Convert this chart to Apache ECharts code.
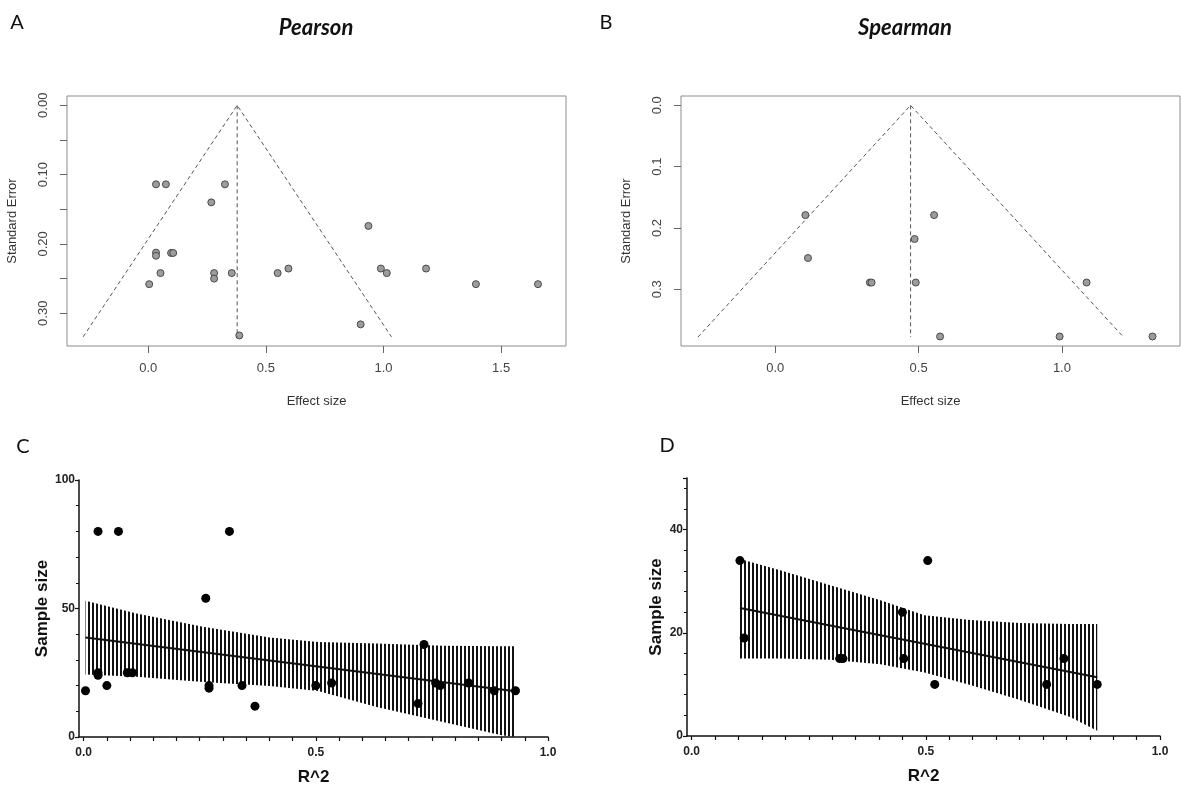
<!DOCTYPE html>
<html>
<head>
<meta charset="utf-8">
<script src="https://cdn.jsdelivr.net/npm/echarts@6/dist/echarts.min.js"></script>
<style>
html,body{margin:0;padding:0;background:#fff;}
#chart{width:1181px;height:789px;}
</style>
</head>
<body>
<div id="chart"></div>
<script>
// ---------- Panel A (Pearson funnel) ----------
const pearsonES = [0.033, 0.075, 0.326, 0.268, 0.033, 0.033, 0.097, 0.106, 0.052, 0.004, 0.280, 0.280, 0.355, 0.387, 0.550, 0.596, 0.936, 0.989, 1.014, 1.181, 1.393, 1.657, 0.903];
const pearsonSE = [0.114, 0.114, 0.114, 0.140, 0.2125, 0.217, 0.213, 0.213, 0.242, 0.258, 0.242, 0.250, 0.242, 0.332, 0.242, 0.2355, 0.174, 0.2355, 0.242, 0.2355, 0.258, 0.258, 0.316];
const funnelA_es = [-0.277, 0.378, 1.034];
const funnelA_se = [0.334, 0, 0.334];
const centerA_es = [0.378, 0.378];
const centerA_se = [0, 0.334];
const xTicksA = [0, 0.5, 1.0, 1.5];
const yTicksA = [0, 0.05, 0.10, 0.15, 0.20, 0.25, 0.30];
const yLabelsA = [0, 0.10, 0.20, 0.30];

// ---------- Panel B (Spearman funnel) ----------
const spearmanES = [0.105, 0.114, 0.330, 0.336, 0.486, 0.490, 0.554, 1.086, 0.575, 0.992, 1.316];
const spearmanSE = [0.179, 0.249, 0.289, 0.289, 0.218, 0.289, 0.179, 0.289, 0.377, 0.377, 0.377];
const funnelB_es = [-0.270, 0.472, 1.215];
const funnelB_se = [0.378, 0, 0.378];
const centerB_es = [0.472, 0.472];
const centerB_se = [0, 0.378];
const xTicksB = [0, 0.5, 1.0];
const yTicksB = [0, 0.1, 0.2, 0.3];

// ---------- Panel C (Pearson: R^2 vs sample size) ----------
const cR2 = [0.004, 0.031, 0.031, 0.031, 0.075, 0.050, 0.094, 0.105, 0.263, 0.270, 0.270, 0.314, 0.341, 0.369, 0.500, 0.534, 0.720, 0.733, 0.758, 0.768, 0.829, 0.884, 0.930];
const cN   = [18, 80, 25, 24, 80, 20, 25, 25, 54, 20, 19, 80, 20, 12, 20, 21, 13, 36, 21, 20, 21, 18, 18];
const fitC_x = [0.004, 0.930];
const fitC_y = [38.7, 17.8];
const bandC_x  = [0.004, 0.114, 0.257, 0.401, 0.505, 0.631, 0.774, 0.900, 0.930];
const bandC_hi = [53.0, 48.1, 42.9, 38.7, 37.0, 36.4, 35.5, 35.3, 35.3];
const bandC_lo = [24.3, 23.4, 21.4, 19.8, 17.9, 11.7, 5.8, 0.7, 0];

// ---------- Panel D (Spearman: R^2 vs sample size) ----------
const dR2 = [0.103, 0.112, 0.316, 0.323, 0.450, 0.453, 0.504, 0.519, 0.758, 0.795, 0.866];
const dN  = [34, 19, 15, 15, 24, 15, 34, 10, 10, 15, 10];
const fitD_x = [0.103, 0.866];
const fitD_y = [24.8, 11.4];
const bandD_x  = [0.103, 0.189, 0.296, 0.403, 0.497, 0.595, 0.701, 0.808, 0.866];
const bandD_hi = [34.3, 32.1, 29.2, 26.3, 23.4, 22.5, 21.9, 21.7, 21.7];
const bandD_lo = [15.0, 15.0, 14.8, 13.9, 12.3, 9.9, 7.0, 3.7, 1.0];

const xTicksCD = [0,0.05,0.1,0.15,0.2,0.25,0.3,0.35,0.4,0.45,0.5,0.55,0.6,0.65,0.7,0.75,0.8,0.85,0.9,0.95,1.0];
const xLabelsCD = [0, 0.5, 1.0];

// ---------- helpers ----------
const zip = (a, b) => a.map((v, i) => [v, b[i]]);
const hatchCanvas = (function(){
  const c = document.createElement('canvas'); c.width = 4; c.height = 4;
  const g = c.getContext('2d'); g.fillStyle = '#111'; g.fillRect(0, 0, 2, 4); return c;
})();
function bandRenderer(xs, hi, lo) {
  return function(params, api) {
    if (params.dataIndex !== 0) return;
    const pts = [];
    for (let i = 0; i < xs.length; i++) pts.push(api.coord([xs[i], hi[i]]));
    for (let i = xs.length - 1; i >= 0; i--) pts.push(api.coord([xs[i], lo[i]]));
    return { type: 'polygon', shape: { points: pts },
      style: { fill: { image: hatchCanvas, repeat: 'repeat' }, stroke: null } };
  };
}

const rFont = 'Liberation Sans, Arial, sans-serif';
const rAxisX = (ticks, min, max, fmtDigits) => ({
  type: 'value', min: min, max: max,
  name: 'Effect size', nameLocation: 'middle', nameGap: 49,
  nameTextStyle: { fontFamily: rFont, fontSize: 13, color: '#333' },
  axisLine: { show: false, onZero: false },
  axisTick: { show: true, length: 7, customValues: ticks, lineStyle: { color: '#666' } },
  axisLabel: { customValues: ticks, margin: 16, fontFamily: rFont, fontSize: 13, color: '#444',
    formatter: v => Number(v).toFixed(fmtDigits) },
  splitLine: { show: false }
});
const rAxisY = (ticks, labels, min, max, fmtDigits) => ({
  type: 'value', inverse: true, min: min, max: max,
  name: 'Standard Error', nameLocation: 'middle', nameGap: 48, nameRotate: 90,
  nameTextStyle: { fontFamily: rFont, fontSize: 13, color: '#333' },
  axisLine: { show: false, onZero: false },
  axisTick: { show: true, length: 7, customValues: ticks, lineStyle: { color: '#666' } },
  axisLabel: { customValues: labels, rotate: 90, margin: 17, fontFamily: rFont, fontSize: 13, color: '#444',
    formatter: v => Number(v).toFixed(fmtDigits) },
  splitLine: { show: false }
});
const gpFont = 'Liberation Sans, Arial, sans-serif';
const gpAxisX = () => ({
  type: 'value', min: -0.01, max: 1.0,
  name: 'R^2', nameLocation: 'middle', nameGap: 32,
  nameTextStyle: { fontFamily: gpFont, fontSize: 17, fontWeight: 'bold', color: '#111' },
  axisLine: { show: true, onZero: false, lineStyle: { color: '#111', width: 1.5 } },
  axisTick: { show: true, length: 4, customValues: xTicksCD, lineStyle: { color: '#111', width: 1.2 } },
  axisLabel: { customValues: xLabelsCD, margin: 10, fontFamily: gpFont, fontSize: 12, fontWeight: 'bold', color: '#222',
    formatter: v => Number(v).toFixed(1) },
  splitLine: { show: false }
});
const gpAxisY = (max, interval) => ({
  type: 'value', min: 0, max: max, interval: interval,
  name: 'Sample size', nameLocation: 'middle', nameGap: 22, nameRotate: 90,
  nameTextStyle: { fontFamily: gpFont, fontSize: 17, fontWeight: 'bold', color: '#111' },
  axisLine: { show: true, onZero: false, lineStyle: { color: '#111', width: 1.5 } },
  axisTick: { show: true, length: 4, lineStyle: { color: '#111', width: 1.2 } },
  minorTick: { show: true, splitNumber: 5, length: 3, lineStyle: { color: '#111', width: 1 } },
  axisLabel: { margin: 4, showMaxLabel: max % interval === 0, fontFamily: gpFont, fontSize: 12, fontWeight: 'bold', color: '#222' },
  splitLine: { show: false }, minorSplitLine: { show: false }
});

const dashStyle = { color: '#555', width: 1, type: [4, 3] };
const rPoint = { color: '#9c9c9c', borderColor: '#4a4a4a', borderWidth: 1, opacity: 1 };
const gpPoint = { color: '#000', opacity: 1 };

const option = {
  animation: false,
  backgroundColor: '#fff',
  graphic: [
    { type: 'text', x: 17, y: 23, style: { text: 'A', font: '20px Lato, sans-serif', fill: '#111', textAlign: 'center', textVerticalAlign: 'middle' } },
    { type: 'text', x: 606, y: 23, style: { text: 'B', font: '20px Lato, sans-serif', fill: '#111', textAlign: 'center', textVerticalAlign: 'middle' } },
    { type: 'text', x: 23, y: 447, style: { text: 'C', font: '20px Lato, sans-serif', fill: '#111', textAlign: 'center', textVerticalAlign: 'middle' } },
    { type: 'text', x: 667, y: 446, style: { text: 'D', font: '20px Lato, sans-serif', fill: '#111', textAlign: 'center', textVerticalAlign: 'middle' } },
    { type: 'text', x: 316, y: 28, style: { text: 'Pearson', font: 'italic bold 22px Lato, sans-serif', fill: '#111', textAlign: 'center', textVerticalAlign: 'middle' } },
    { type: 'text', x: 905, y: 28, style: { text: 'Spearman', font: 'italic bold 22px Lato, sans-serif', fill: '#111', textAlign: 'center', textVerticalAlign: 'middle' } }
  ],
  grid: [
    { left: 67, top: 96, width: 499, height: 250, show: true, borderColor: '#8c8c8c', borderWidth: 1, backgroundColor: 'transparent' },
    { left: 681, top: 96, width: 499, height: 250, show: true, borderColor: '#8c8c8c', borderWidth: 1, backgroundColor: 'transparent' },
    { left: 79, top: 480, width: 469, height: 257 },
    { left: 687, top: 478, width: 473, height: 258 }
  ],
  xAxis: [
    Object.assign(rAxisX(xTicksA, -0.3455, 1.776, 1), { gridIndex: 0 }),
    Object.assign(rAxisX(xTicksB, -0.329, 1.412, 1), { gridIndex: 1 }),
    Object.assign(gpAxisX(), { gridIndex: 2 }),
    Object.assign(gpAxisX(), { gridIndex: 3 })
  ],
  yAxis: [
    Object.assign(rAxisY(yTicksA, yLabelsA, -0.0134, 0.3472, 2), { gridIndex: 0 }),
    Object.assign(rAxisY(yTicksB, yTicksB, -0.0152, 0.3925, 1), { gridIndex: 1 }),
    Object.assign(gpAxisY(100, 50), { gridIndex: 2 }),
    Object.assign(gpAxisY(50, 20), { gridIndex: 3 })
  ],
  series: [
    // A
    { type: 'line', xAxisIndex: 0, yAxisIndex: 0, data: zip(funnelA_es, funnelA_se), symbol: 'none', lineStyle: dashStyle, silent: true },
    { type: 'line', xAxisIndex: 0, yAxisIndex: 0, data: zip(centerA_es, centerA_se), symbol: 'none', lineStyle: dashStyle, silent: true },
    { type: 'scatter', xAxisIndex: 0, yAxisIndex: 0, data: zip(pearsonES, pearsonSE), symbolSize: 7, itemStyle: rPoint },
    // B
    { type: 'line', xAxisIndex: 1, yAxisIndex: 1, data: zip(funnelB_es, funnelB_se), symbol: 'none', lineStyle: dashStyle, silent: true },
    { type: 'line', xAxisIndex: 1, yAxisIndex: 1, data: zip(centerB_es, centerB_se), symbol: 'none', lineStyle: dashStyle, silent: true },
    { type: 'scatter', xAxisIndex: 1, yAxisIndex: 1, data: zip(spearmanES, spearmanSE), symbolSize: 7, itemStyle: rPoint },
    // C
    { type: 'custom', xAxisIndex: 2, yAxisIndex: 2, data: [[bandC_x[0], bandC_hi[0]]], renderItem: bandRenderer(bandC_x, bandC_hi, bandC_lo), silent: true, z: 1 },
    { type: 'line', xAxisIndex: 2, yAxisIndex: 2, data: zip(fitC_x, fitC_y), symbol: 'none', lineStyle: { color: '#111', width: 2 }, z: 3 },
    { type: 'scatter', xAxisIndex: 2, yAxisIndex: 2, data: zip(cR2, cN), symbolSize: 9, itemStyle: gpPoint, z: 4 },
    // D
    { type: 'custom', xAxisIndex: 3, yAxisIndex: 3, data: [[bandD_x[0], bandD_hi[0]]], renderItem: bandRenderer(bandD_x, bandD_hi, bandD_lo), silent: true, z: 1 },
    { type: 'line', xAxisIndex: 3, yAxisIndex: 3, data: zip(fitD_x, fitD_y), symbol: 'none', lineStyle: { color: '#111', width: 2 }, z: 3 },
    { type: 'scatter', xAxisIndex: 3, yAxisIndex: 3, data: zip(dR2, dN), symbolSize: 9, itemStyle: gpPoint, z: 4 }
  ]
};

const chart = echarts.init(document.getElementById('chart'), null, { renderer: 'canvas' });
chart.setOption(option);
</script>
</body>
</html>
